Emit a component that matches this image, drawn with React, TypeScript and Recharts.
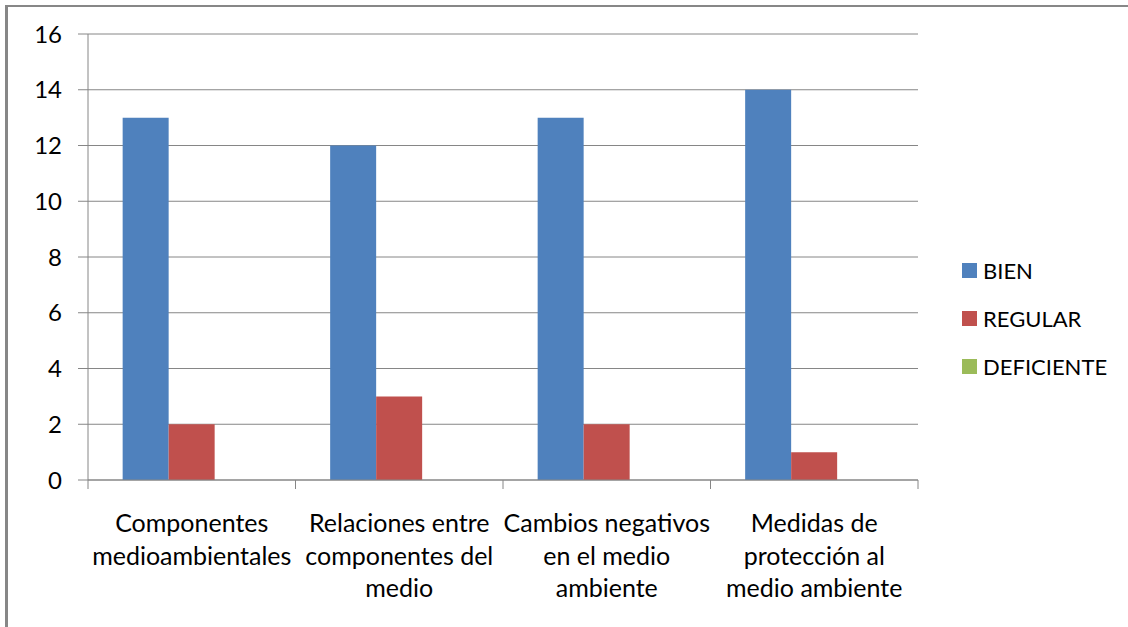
import React from 'react';
import { BarChart, Bar, XAxis, YAxis, CartesianGrid } from 'recharts';

// Category names, each split into the lines they are printed on
const categories = [
  'Componentes medioambientales',
  'Relaciones entre componentes del medio',
  'Cambios negativos en el medio ambiente',
  'Medidas de protección al medio ambiente',
];
const categoryLines = [
  ['Componentes', 'medioambientales'],
  ['Relaciones entre', 'componentes del', 'medio'],
  ['Cambios negativos', 'en el medio', 'ambiente'],
  ['Medidas de', 'protección al', 'medio ambiente'],
];

// Series values
const seriesNames = ['BIEN', 'REGULAR', 'DEFICIENTE'];
const seriesColors = ['#4F81BD', '#C0504D', '#9BBB59'];
const bien = [13, 12, 13, 14];
const regular = [2, 3, 2, 1];
const deficiente = [0, 0, 0, 0];

const yTicks = [0, 2, 4, 6, 8, 10, 12, 14, 16];

const data = categories.map((name, i) => ({
  name,
  BIEN: bien[i],
  REGULAR: regular[i],
  DEFICIENTE: deficiente[i],
}));

const W = 1128;
const H = 627;
const MARGIN = { top: 34, right: 210, bottom: 7, left: 28 };
const Y_AXIS_W = 60;
const X_AXIS_H = 140;
const PLOT_W = W - MARGIN.left - MARGIN.right - Y_AXIS_W;
const STEP = PLOT_W / categories.length;

const FONT = 'Lato, "Noto Sans", sans-serif';
const GRID = '#868686';

const CategoryTick = (props: any) => {
  const { x, y, index } = props;
  const lines = categoryLines[index] || [];
  const last = index === categories.length - 1;
  return (
    <g>
      <line x1={x - STEP / 2} x2={x - STEP / 2} y1={y} y2={y + 9} stroke={GRID} strokeWidth={1} />
      {last && <line x1={x + STEP / 2} x2={x + STEP / 2} y1={y} y2={y + 9} stroke={GRID} strokeWidth={1} />}
      <text x={x} y={y + 52} textAnchor="middle" fill="#000" fontSize={25} fontFamily={FONT}>
        {lines.map((l, i) => (
          <tspan key={i} x={x} dy={i === 0 ? 0 : 32.5}>
            {l}
          </tspan>
        ))}
      </text>
    </g>
  );
};

export default function App() {
  return (
    <div style={{ position: 'absolute', left: 0, top: 0, width: W, height: H, background: '#fff', overflow: 'hidden' }}>
      <div
        style={{
          position: 'absolute',
          left: 5,
          top: 5,
          width: W,
          height: H,
          borderLeft: '3px solid #878787',
          borderTop: '2px solid #878787',
          boxSizing: 'border-box',
        }}
      />
      <BarChart width={W} height={H} data={data} margin={MARGIN} barCategoryGap="16.7%" barGap={0}>
        <CartesianGrid vertical={false} stroke={GRID} strokeWidth={1} />
        <XAxis
          dataKey="name"
          height={X_AXIS_H}
          interval={0}
          tickSize={0}
          tickMargin={0}
          tickLine={false}
          axisLine={{ stroke: GRID }}
          tick={<CategoryTick />}
        />
        <YAxis
          width={Y_AXIS_W}
          domain={[0, 16]}
          ticks={yTicks}
          interval={0}
          tickSize={10}
          tickMargin={16}
          axisLine={{ stroke: GRID }}
          tickLine={{ stroke: GRID }}
          tick={{ fill: '#000', fontSize: 24, fontFamily: FONT }}
        />
        {seriesNames.map((s, i) => (
          <Bar key={s} dataKey={s} fill={seriesColors[i]} isAnimationActive={false} />
        ))}
      </BarChart>
      {/* Series key on the right */}
      <div style={{ position: 'absolute', left: 962, top: 246, fontFamily: FONT, fontSize: 22, color: '#000' }}>
        {seriesNames.map((s, i) => (
          <div key={s} style={{ display: 'flex', alignItems: 'center', height: 48 }}>
            <span style={{ display: 'inline-block', width: 15, height: 15, background: seriesColors[i], marginRight: 6 }} />
            <span>{s}</span>
          </div>
        ))}
      </div>
    </div>
  );
}
